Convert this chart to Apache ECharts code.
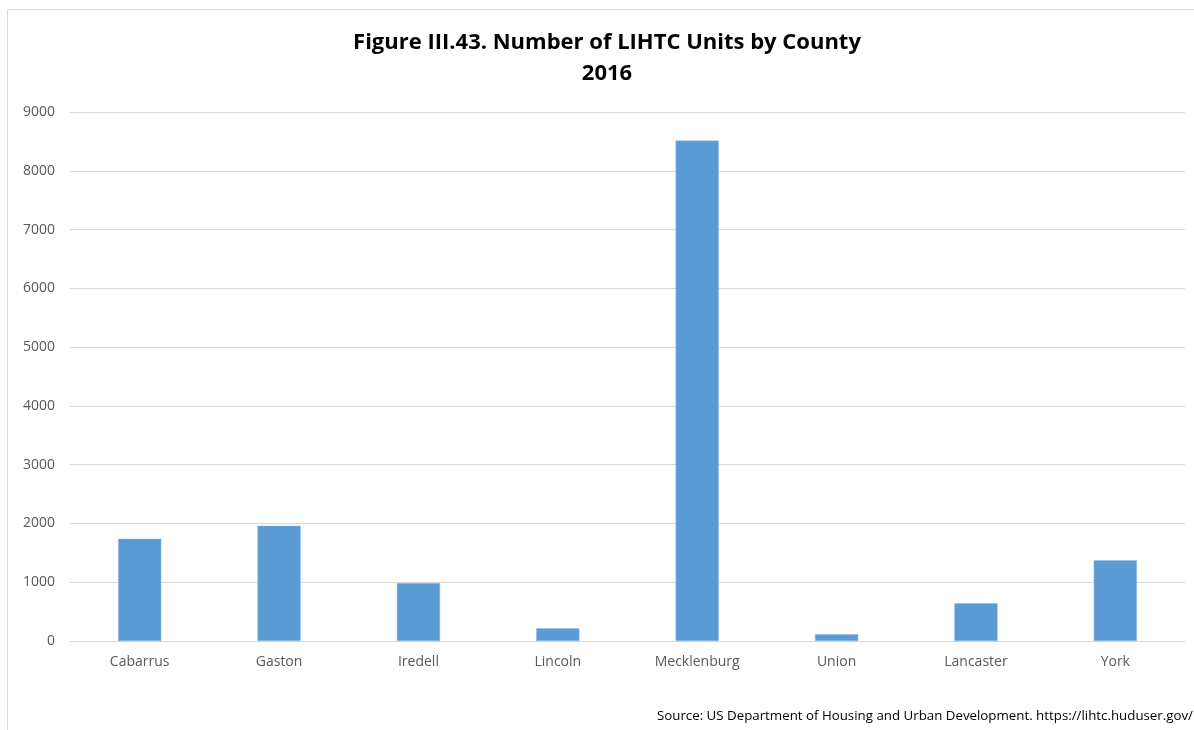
<!DOCTYPE html>
<html><head><meta charset="utf-8">
<script src="https://cdn.jsdelivr.net/npm/echarts@6/dist/echarts.min.js"></script>
<style>html,body{margin:0;padding:0;background:#fff}#c{width:1194px;height:730px}</style>
</head><body><div id="c"></div>
<script>
const counties = ["Cabarrus","Gaston","Iredell","Lincoln","Mecklenburg","Union","Lancaster","York"];
const units = [1740, 1961, 986, 216, 8514, 114, 641, 1372];
const titleLines = ["Figure III.43. Number of LIHTC Units by County", "2016"];
const sourceText = "Source: US Department of Housing and Urban Development. https://lihtc.huduser.gov/";
const fontFam = "'Open Sans', 'Noto Sans', sans-serif";
const chart = echarts.init(document.getElementById('c'), null, {renderer:'canvas'});
chart.setOption({
  animation: false,
  backgroundColor: '#fff',
  graphic: [
    {type:'rect', shape:{x:7.5, y:9.5, width:1200, height:730}, style:{fill:'none', stroke:'#d9d9d9', lineWidth:1}, silent:true},
    {type:'text', x: 607, y: 43, style:{text: titleLines[0], font: "bold 22px " + fontFam, fill:'#000', align:'center', verticalAlign:'middle'}},
    {type:'text', x: 607, y: 74, style:{text: titleLines[1], font: "bold 22px " + fontFam, fill:'#000', align:'center', verticalAlign:'middle'}},
    {type:'text', right: 1, top: 710, style:{text: sourceText, font: "13.3px " + fontFam, fill:'#000'}}
  ],
  grid: {left: 70, right: 9, top: 112, bottom: 89, containLabel: false},
  xAxis: {
    type: 'category', data: counties,
    axisLine: {show: true, lineStyle: {color: '#d9d9d9', width: 1}},
    axisTick: {show: false},
    axisLabel: {color: '#595959', fontFamily: fontFam, fontSize: 14, margin: 14}
  },
  yAxis: {
    type: 'value', min: 0, max: 9000, interval: 1000,
    axisLine: {show: false}, axisTick: {show: false},
    splitLine: {lineStyle: {color: '#d9d9d9', width: 1}},
    axisLabel: {color: '#595959', fontFamily: fontFam, fontSize: 14, margin: 15, formatter: v => String(v)}
  },
  series: [{
    type: 'bar', data: units, barWidth: '31%',
    itemStyle: {color: '#5b9bd5', borderColor: '#8fbce6', borderWidth: 0.5}
  }]
});
</script></body></html>
